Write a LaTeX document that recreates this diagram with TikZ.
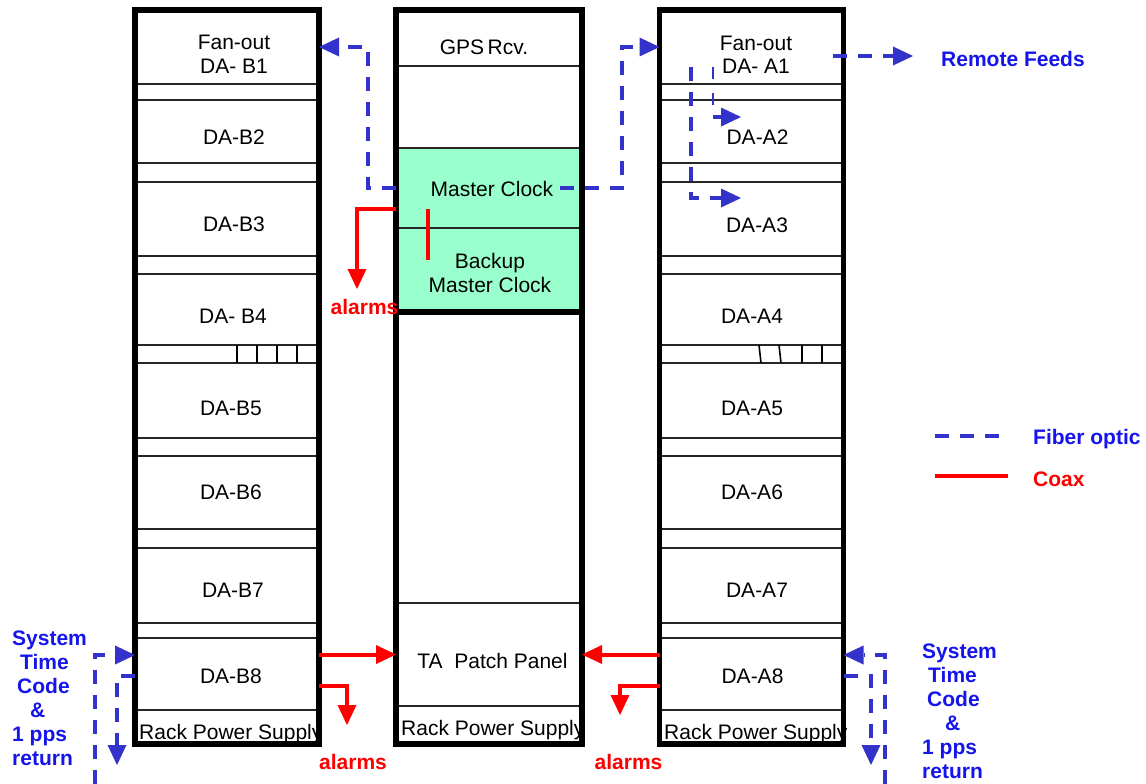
\documentclass[tikz,border=0pt]{standalone}
\usepackage{fontspec}
\setmainfont{Liberation Sans}
\usetikzlibrary{arrows.meta,positioning,calc}

\definecolor{fibre}{RGB}{51,51,204}
\definecolor{labelblue}{RGB}{20,20,235}
\definecolor{coaxred}{RGB}{255,0,0}
\definecolor{clockgreen}{RGB}{153,255,204}

\newcommand{\panelfont}{\fontsize{21}{23.5}\selectfont}
\newcommand{\psfont}{\fontsize{21}{23}\selectfont}
\newcommand{\tagfont}{\fontsize{21}{24}\selectfont\bfseries}

\tikzset{
  slot/.style={draw=black!85, line width=1.6pt, inner sep=0pt, outer sep=0pt, minimum width=184pt},
  rack/.style={draw, line width=5.5pt},
  txt/.style={font=\panelfont, inner sep=0pt, align=center},
  fiber/.style={draw=fibre, line width=4.5pt, dash pattern=on 14pt off 11pt},
  thinfiber/.style={draw=fibre, line width=1.8pt, dash pattern=on 12pt off 14pt},
  coax/.style={draw=coaxred, line width=4pt},
  bluetag/.style={font=\tagfont, text=labelblue, inner sep=0pt, align=left},
  redtag/.style={font=\tagfont, text=coaxred, inner sep=0pt},
}

\begin{document}
\begin{tikzpicture}[x=1pt,y=-1pt,>={Triangle[length=20pt,width=19pt,line width=0pt]}]
  \useasboundingbox (0,0) rectangle (1146,784);

  % rack B (left)
  \node[slot, minimum height=74pt] (b1) at (227,47) {};
  \node[slot, minimum height=63pt] (b2) at (227,131.5) {};
  \node[slot, minimum height=74pt] (b3) at (227,219) {};
  \node[slot, minimum height=71pt] (b4) at (227,309.5) {};
  \node[slot, minimum height=75pt] (b5) at (227,400.5) {};
  \node[slot, minimum height=73pt] (b6) at (227,492.5) {};
  \node[slot, minimum height=75pt] (b7) at (227,585.5) {};
  \node[slot, minimum height=72pt] (b8) at (227,674) {};
  \node[slot, minimum height=34pt] (bps) at (227,727) {};

  % middle rack
  \node[slot, minimum width=186pt, minimum height=56pt] (gps) at (489,38) {};
  \node[slot, minimum width=186pt, minimum height=80pt, fill=clockgreen] (mc) at (489,188) {};
  \node[slot, minimum width=186pt, minimum height=84pt, fill=clockgreen] (bmc) at (489,270) {};
  \node[slot, minimum width=186pt, minimum height=103pt] (ta) at (489,654.5) {};
  \node[slot, minimum width=186pt, minimum height=38pt] (mps) at (489,725) {};
  \draw[line width=5.5pt] (bmc.south west) -- (bmc.south east);

  % rack A (right)
  \node[slot, minimum height=74pt] (a1) at (751.5,47) {};
  \node[slot, minimum height=63pt] (a2) at (751.5,131.5) {};
  \node[slot, minimum height=74pt] (a3) at (751.5,219) {};
  \node[slot, minimum height=71pt] (a4) at (751.5,309.5) {};
  \node[slot, minimum height=75pt] (a5) at (751.5,400.5) {};
  \node[slot, minimum height=73pt] (a6) at (751.5,492.5) {};
  \node[slot, minimum height=75pt] (a7) at (751.5,585.5) {};
  \node[slot, minimum height=72pt] (a8) at (751.5,674) {};
  \node[slot, minimum height=34pt] (aps) at (751.5,727) {};

  \draw[rack] (b1.north west) rectangle (bps.south east);
  \draw[rack] (gps.north west) rectangle (mps.south east);
  \draw[rack] (a1.north west) rectangle (aps.south east);

  % small dividers in the blank row
  \foreach \x in {237,257,277,297}
    \draw[line width=1.6pt] (\x,345) -- (\x,363);
  \draw[line width=1.6pt] (759,345) -- (761,363) (779,345) -- (781,363)
    (802,345) -- (802,363) (822,345) -- (822,363);

  % panel texts
  \node[txt] (b1t) at (234,54.5) {Fan-out\\DA- B1};
  \node[txt] (b2t) at (234,137) {DA-B2};
  \node[txt] (b3t) at (234,224) {DA-B3};
  \node[txt] (b4t) at (233,316) {DA- B4};
  \node[txt] (b5t) at (231,408) {DA-B5};
  \node[txt] (b6t) at (231,492) {DA-B6};
  \node[txt] (b7t) at (233,590) {DA-B7};
  \node[txt] (b8t) at (231,676) {DA-B8};
  \node[txt, font=\psfont, anchor=base west] (bpst) at (139,739) {Rack Power Supply};

  \node[txt] (gpst) at (484,47) {GPS\,Rcv.};
  \node[txt] (mct) at (492,189) {Master Clock};
  \node[txt] (bmct) at (490,273) {Backup\\Master Clock};
  \node[txt] (tat) at (492.5,661) {TA\ \ Patch Panel};
  \node[txt, font=\psfont, anchor=base west] (mpst) at (401,735) {Rack Power Supply};

  \node[txt] (a1t) at (756,55) {Fan-out\\DA- A1};
  \node[txt] (a2t) at (757.5,137.5) {DA-A2};
  \node[txt] (a3t) at (757,225) {DA-A3};
  \node[txt] (a4t) at (752,316) {DA-A4};
  \node[txt] (a5t) at (752,408) {DA-A5};
  \node[txt] (a6t) at (752,492) {DA-A6};
  \node[txt] (a7t) at (757,590) {DA-A7};
  \node[txt] (a8t) at (752.5,676) {DA-A8};
  \node[txt, font=\psfont, anchor=base west] (apst) at (664,739) {Rack Power Supply};

  % labels
  \node[bluetag, anchor=west] (remote) at (941,59) {Remote Feeds};
  \node[bluetag, anchor=west] (legf) at (1033,439) {Fiber optic};
  \node[redtag, anchor=west] (legc) at (1033,479) {Coax};
  \node[redtag] (alarm1) at (364.5,307) {alarms};
  \node[redtag] (alarm2) at (353,762) {alarms};
  \node[redtag] (alarm3) at (628.5,762) {alarms};
  \node[bluetag, anchor=west] (sysl) at (12,698)
    {System\\\hspace*{8pt}Time\\\hspace*{5pt}Code\\\hspace*{18pt}\&\\1 pps\\return};
  \node[bluetag, anchor=west] (sysr) at (922,711)
    {System\\\hspace*{6pt}Time\\\hspace*{5pt}Code\\\hspace*{23pt}\&\\1 pps\\return};

  % free ends
  \coordinate (mcout) at (560,188);
  \coordinate (rfout) at (833,56);
  \coordinate (rfin) at (913,56);
  \coordinate (fanA) at (691,67);
  \coordinate (fanA3) at (741,198);
  \coordinate (fanB) at (713,67);
  \coordinate (fanB2) at (713,117);
  \coordinate (fanA2) at (741,117);
  \coordinate (inl) at (95,784);
  \coordinate (retl) at (117,765);
  \coordinate (inr) at (885,784);
  \coordinate (retr) at (871,765);
  \coordinate (tip1) at (357,289);
  \coordinate (tip2) at (347,725);
  \coordinate (tip3) at (620,715);

  % fiber optic
  \draw[fiber,->] (mc.west) -- ++(-28,0) |- (b1.east);
  \draw[fiber,->] (mcout) -- ++(62,0) |- (a1.west);
  \draw[fiber,->] (rfout) -- (rfin);
  \draw[fiber,->] (fanA) |- (fanA3);
  \draw[thinfiber] (fanB) -- (fanB2);
  \draw[fiber,->] (fanB2) -- (fanA2);
  \draw[fiber,->] (inl) |- ([yshift=19pt]b8.west);
  \draw[fiber,->] ([yshift=-2pt]b8.west) -| (retl);
  \draw[fiber,->] (inr) |- ([yshift=19pt]a8.east);
  \draw[fiber,->] ([yshift=-2pt]a8.east) -| (retr);

  % coax
  \draw[coax,->] ([yshift=-21pt]mc.west) -| (tip1);
  \draw[coax] (428,209) -- (428,260);
  \draw[coax,->] (b8.east |- ta.west) -- (ta.west);
  \draw[coax,->] ([yshift=-12pt]b8.east) -| (tip2);
  \draw[coax,->] (a8.west |- ta.east) -- (ta.east);
  \draw[coax,->] ([yshift=-12pt]a8.west) -| (tip3);

  % legend
  \draw[fiber] (935,436) -- (1003,436);
  \draw[coax] (935,476) -- (1008,476);
\end{tikzpicture}
\end{document}
